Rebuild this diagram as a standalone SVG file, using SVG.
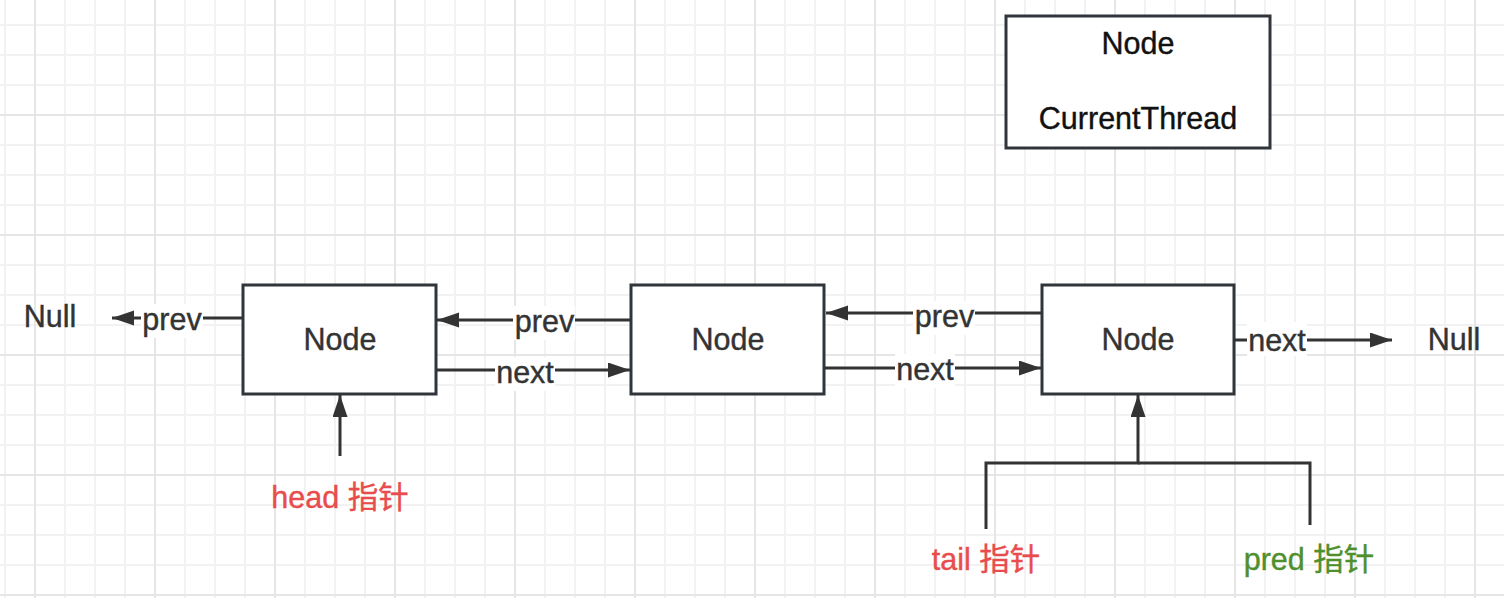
<svg xmlns="http://www.w3.org/2000/svg" width="1504" height="598" viewBox="0 0 1504 598">
<style>
.box{fill:#fff;stroke:#30353a;stroke-width:3}
.t{font-family:"Liberation Sans","Noto Sans CJK SC",sans-serif;font-size:30.5px;fill:#333;stroke:#333;stroke-width:0.4;text-anchor:middle}
.tb{fill:#111;stroke:#111}
.lbl{fill:#fff}
.ln{fill:none;stroke:#333;stroke-width:3}
.arr{marker-end:url(#ah)}
.red{fill:#e84c4c;stroke:#e84c4c}
.green{fill:#4f8f2c;stroke:#4f8f2c}
</style>
<defs>
<pattern id="grid" x="34" y="114" width="120" height="120" patternUnits="userSpaceOnUse">
<rect x="30" y="0" width="2" height="120" fill="#f2f2f2"/>
<rect x="60" y="0" width="2" height="120" fill="#f2f2f2"/>
<rect x="90" y="0" width="2" height="120" fill="#f2f2f2"/>
<rect x="0" y="30" width="120" height="2" fill="#f2f2f2"/>
<rect x="0" y="60" width="120" height="2" fill="#f2f2f2"/>
<rect x="0" y="90" width="120" height="2" fill="#f2f2f2"/>
<rect x="0" y="0" width="2" height="120" fill="#e6e6e6"/>
<rect x="0" y="0" width="120" height="2" fill="#e6e6e6"/>
</pattern>
<marker id="ah" markerUnits="userSpaceOnUse" markerWidth="24" markerHeight="16" refX="22" refY="7.5" orient="auto">
<path d="M0,0 L22,7.5 L0,15 z" fill="#333"/>
</marker>
</defs>
<rect width="1504" height="598" fill="#fff"/>
<rect width="1504" height="598" fill="url(#grid)"/>

<g id="connectors">
<path class="ln arr" d="M243,318 H112"/>
<path class="ln arr" d="M631,320 H437"/>
<path class="ln arr" d="M433,370 H630"/>
<path class="ln arr" d="M1042,313 H826"/>
<path class="ln arr" d="M824,368 H1041"/>
<path class="ln arr" d="M1235,340 H1392"/>
<path class="ln arr" d="M340,456 V395"/>
<path class="ln arr" d="M986,529 V463 H1138 V395"/>
<path class="ln" d="M1310,525 V463 H1138"/>
<g id="edge-labels">
<rect class="lbl" x="141" y="304" width="62" height="34"/>
<text class="t" x="172" y="330">prev</text>
<rect class="lbl" x="513" y="306" width="62" height="34"/>
<text class="t" x="544.5" y="332">prev</text>
<rect class="lbl" x="495" y="357" width="60" height="34"/>
<text class="t" x="525" y="383">next</text>
<rect class="lbl" x="913" y="301" width="62" height="34"/>
<text class="t" x="944.5" y="327">prev</text>
<rect class="lbl" x="895" y="354" width="60" height="34"/>
<text class="t" x="925" y="380">next</text>
<rect class="lbl" x="1247" y="322" width="60" height="34"/>
<text class="t" x="1277" y="351">next</text>
</g>
</g>

<g id="node-current">
<rect class="box" x="1006" y="16" width="264" height="132"/>
<text class="t tb" x="1138" y="54">Node</text>
<text class="t tb" x="1138" y="129">CurrentThread</text>
</g>
<g id="node1">
<rect class="box" x="243" y="285" width="193" height="109"/>
<text class="t" x="340" y="350">Node</text>
</g>
<g id="node2">
<rect class="box" x="631" y="285" width="193" height="109"/>
<text class="t" x="728" y="350">Node</text>
</g>
<g id="node3">
<rect class="box" x="1042" y="285" width="192" height="109"/>
<text class="t" x="1138" y="350">Node</text>
</g>
<g id="null-left">
<text class="t" x="50" y="327">Null</text>
</g>
<g id="null-right">
<text class="t" x="1454" y="350">Null</text>
</g>
<g id="head-label">
<text class="t red" x="340" y="508">head 指针</text>
</g>
<g id="tail-label">
<text class="t red" x="986" y="570">tail 指针</text>
</g>
<g id="pred-label">
<text class="t green" x="1309" y="570">pred 指针</text>
</g>
</svg>
